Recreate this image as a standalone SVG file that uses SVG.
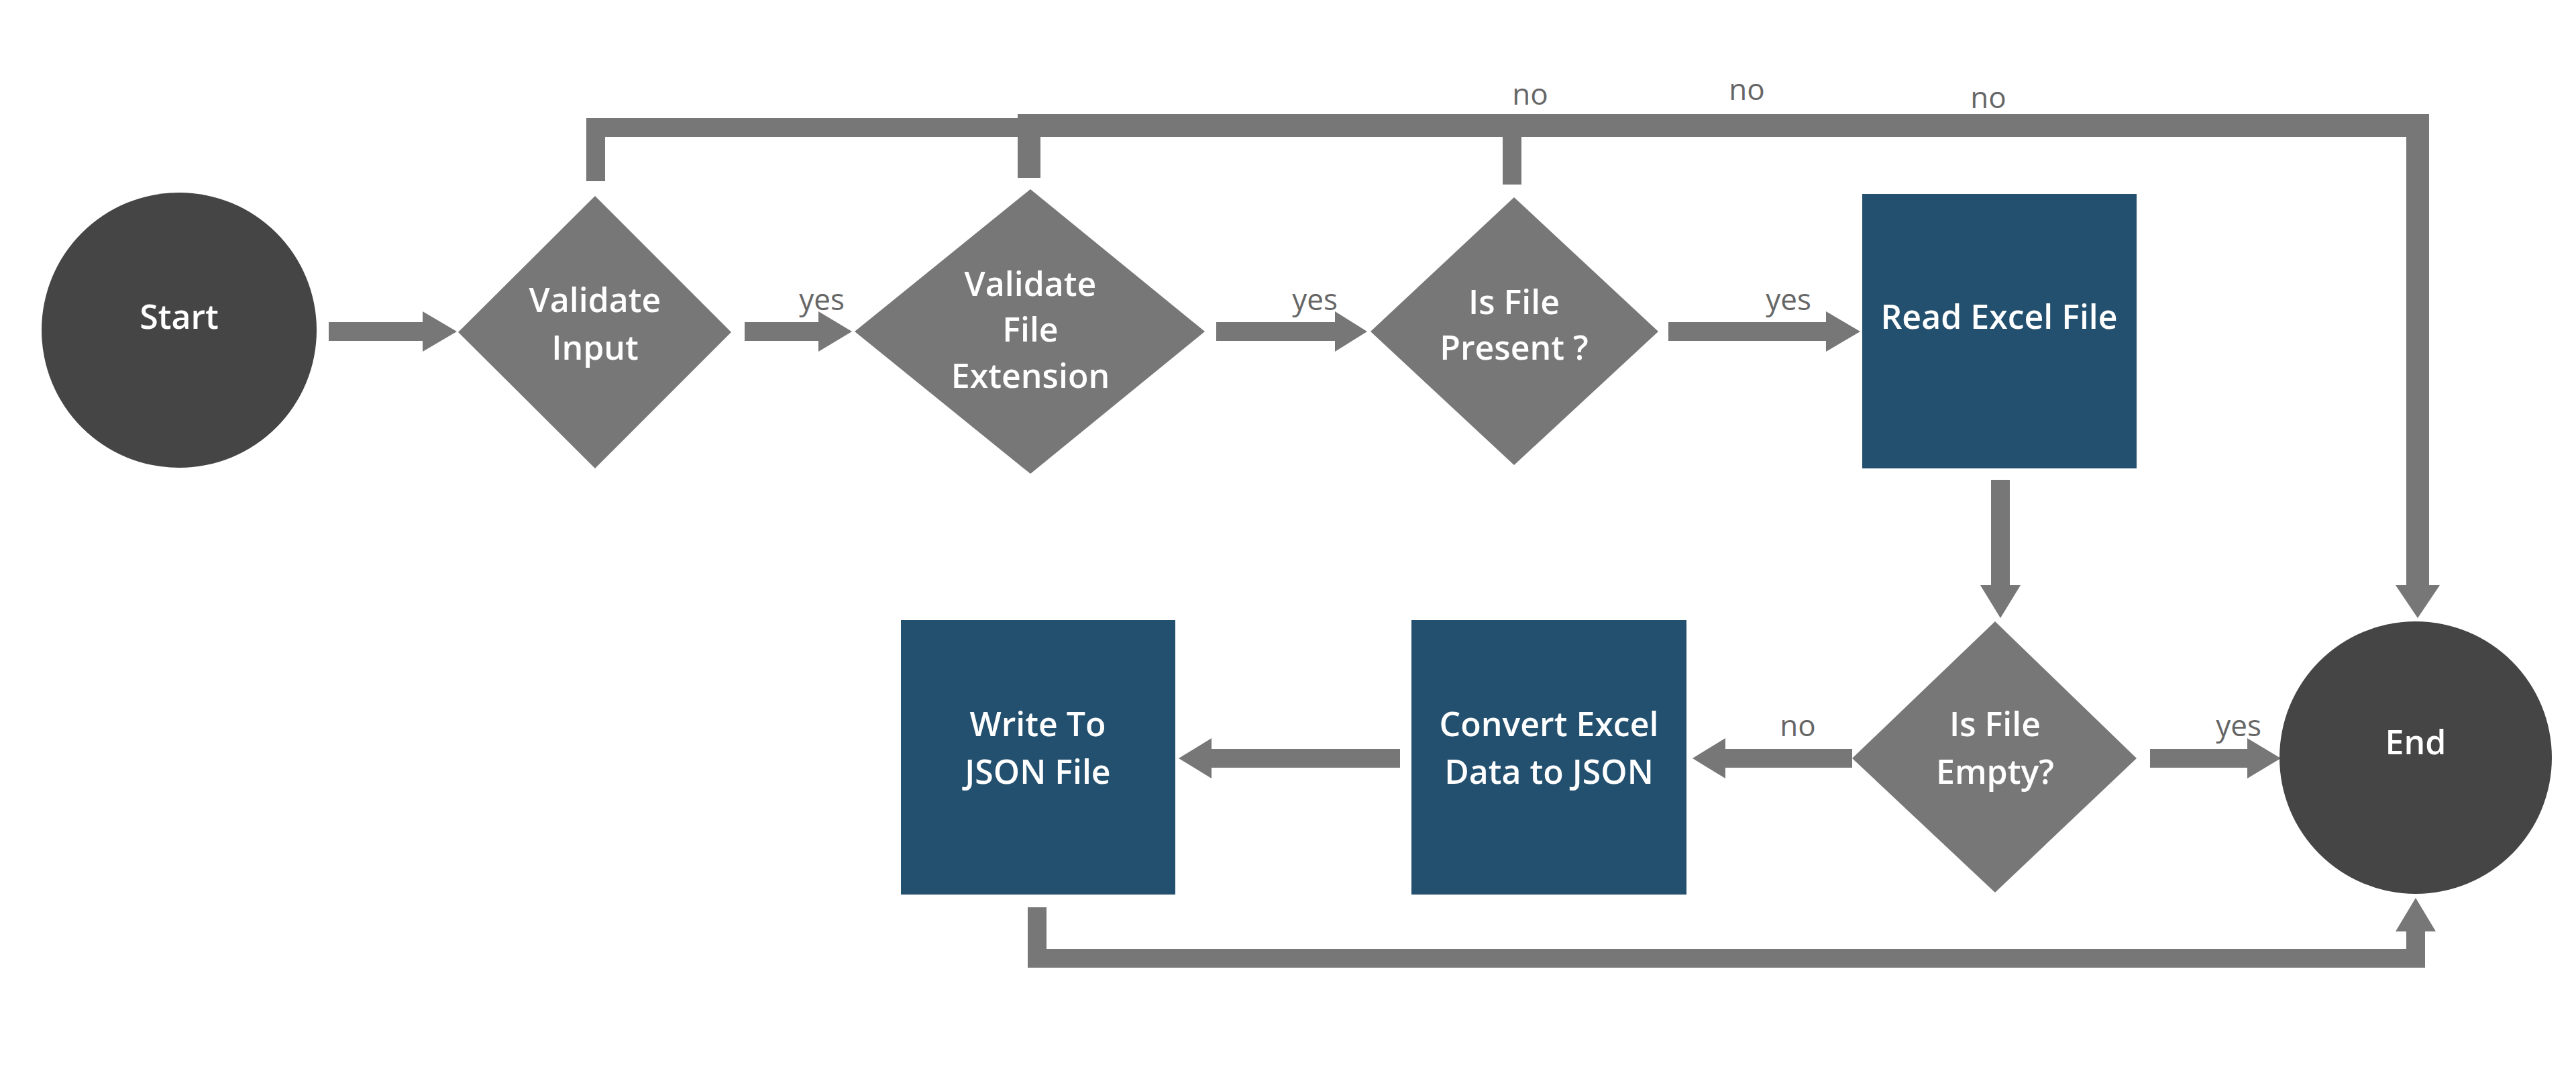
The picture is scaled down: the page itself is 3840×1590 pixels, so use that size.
<svg xmlns="http://www.w3.org/2000/svg" width="3840" height="1590" viewBox="0 0 3840 1590">
<style>
.t{font-family:"Open Sans","Liberation Sans",sans-serif;font-size:50px;font-weight:600;fill:#fff;text-anchor:middle}
.l{font-family:"Open Sans","Liberation Sans",sans-serif;font-size:44px;fill:#666;text-anchor:middle}
.c{fill:#454545}.d{fill:#777}.r{fill:#23506e}
.e{stroke:#777;fill:none;stroke-width:28}
.h{fill:#777}
</style>
<rect width="3840" height="1590" fill="#fff"/>
<g id="connectors">
<path class="e" d="M490 494H630"/><polygon class="h" points="630,464 681,494 630,524"/>
<path class="e" d="M1110 494H1220"/><polygon class="h" points="1220,464 1270,494 1220,524"/>
<path class="e" d="M1813 494H1990"/><polygon class="h" points="1990,464 2038,494 1990,524"/>
<path class="e" d="M2487 494H2722"/><polygon class="h" points="2722,464 2773,494 2722,524"/>
<path class="e" d="M2982 715V872"/><polygon class="h" points="2952,872 2982,921 3012,872"/>
<path class="e" d="M2761 1130H2572"/><polygon class="h" points="2572,1100 2523,1130 2572,1160"/>
<path class="e" d="M2087 1130H1806"/><polygon class="h" points="1806,1100 1757,1130 1806,1160"/>
<path class="e" d="M3205 1130H3350"/><polygon class="h" points="3350,1100 3400,1130 3350,1160"/>
<path class="e" d="M1546 1352V1428H3601V1388"/><polygon class="h" points="3571,1388 3601,1338 3631,1388"/>
<path class="e" d="M888 270V190H1534"/>
<path class="e" d="M1534 265V187H3604V872" style="stroke-width:34"/>
<path class="e" d="M2254 275V187"/>
<polygon class="h" points="3571,872 3604,921 3637,872"/>
</g>
<g class="l">
<text x="1225" y="462">yes</text>
<text x="1960" y="462">yes</text>
<text x="2666" y="462">yes</text>
<text x="2281" y="156">no</text>
<text x="2604" y="149">no</text>
<text x="2964" y="161">no</text>
<text x="2680" y="1097">no</text>
<text x="3337" y="1097">yes</text>
</g>
<g id="start"><circle class="c" cx="267" cy="492" r="205"/><text class="t" x="267" y="490">Start</text></g>
<g id="validate-input"><polygon class="d" points="887,292 1090,495 887,698 683,495"/><text class="t" x="887" y="465">Validate</text><text class="t" x="887" y="536">Input</text></g>
<g id="validate-ext"><polygon class="d" points="1536,282 1796,494 1536,706 1274,494"/><text class="t" x="1536" y="441">Validate</text><text class="t" x="1536" y="509">File</text><text class="t" x="1536" y="578">Extension</text></g>
<g id="file-present"><polygon class="d" points="2257,294 2472,494 2257,693 2043,494"/><text class="t" x="2257" y="468">Is File</text><text class="t" x="2257" y="536">Present ?</text></g>
<g id="read"><rect class="r" x="2776" y="289" width="409" height="409"/><text class="t" x="2980" y="490">Read Excel File</text></g>
<g id="file-empty"><polygon class="d" points="2974,926 3185,1130 2974,1330 2761,1130"/><text class="t" x="2974" y="1097">Is File</text><text class="t" x="2974" y="1168">Empty?</text></g>
<g id="end"><circle class="c" cx="3601" cy="1129" r="203"/><text class="t" x="3601" y="1124">End</text></g>
<g id="convert"><rect class="r" x="2104" y="924" width="410" height="409"/><text class="t" x="2309" y="1097">Convert Excel</text><text class="t" x="2309" y="1168">Data to JSON</text></g>
<g id="write"><rect class="r" x="1343" y="924" width="409" height="409"/><text class="t" x="1547" y="1097">Write To</text><text class="t" x="1547" y="1168">JSON File</text></g>
</svg>
